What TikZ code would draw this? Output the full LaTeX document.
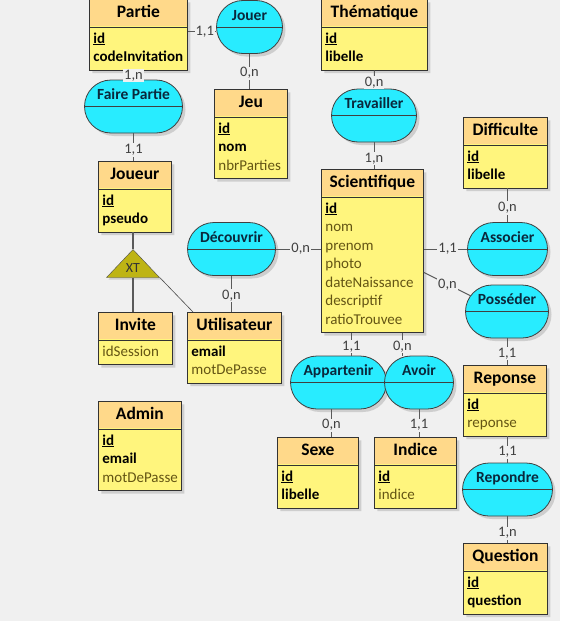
\documentclass[tikz,border=0pt]{standalone}
\usepackage{fontspec}
\setmainfont{Carlito}
\usetikzlibrary{shapes.multipart,shapes.geometric,shapes.misc,shadows}

\definecolor{fond}{RGB}{240,240,240}
\definecolor{entete}{RGB}{255,217,138}
\definecolor{corps}{RGB}{255,245,125}
\definecolor{cyanasso}{RGB}{40,236,255}
\definecolor{heritage}{RGB}{190,180,20}
\definecolor{attribut}{RGB}{100,85,20}
\definecolor{trait}{RGB}{90,90,90}
\definecolor{nomasso}{RGB}{10,40,60}

\newcommand{\titre}[1]{\fontsize{17.5}{22}\selectfont\bfseries\hbox to\hsize{\hfil\strut #1\hfil}}
\newcommand{\cle}[1]{\strut\underline{\textbf{#1}}}
\newcommand{\gras}[1]{\strut\textbf{#1}}
\newcommand{\simple}[1]{\strut\textcolor{attribut}{#1}}
\hyphenpenalty=10000

\begin{document}
\begin{tikzpicture}[x=1pt,y=-1pt,
  entite/.style={rectangle split, rectangle split parts=2, draw=black!80, line width=.8pt,
    fill=corps, path picture={\fill[entete] (path picture bounding box.north west)
      rectangle ([yshift=-27pt]path picture bounding box.north east);},
    text width=#1, align=left, inner xsep=4pt, inner ysep=2.5pt, anchor=north west,
    font=\fontsize{15}{18.5}\selectfont,
    drop shadow={shadow xshift=3pt,shadow yshift=-3pt,opacity=.3}},
  relation/.style={rounded rectangle, draw=black!75, line width=.8pt, fill=cyanasso,
    minimum width=#1-59pt, minimum height=53pt, inner xsep=-30pt, inner ysep=0pt,
    text height=11pt, text depth=25pt,
    font=\fontsize{15.5}{18}\selectfont\bfseries, text=nomasso,
    drop shadow={shadow xshift=3pt,shadow yshift=-3pt,opacity=.3}},
  xt/.style={isosceles triangle, shape border rotate=90, isosceles triangle stretches,
    minimum width=53pt, minimum height=28pt, inner sep=0pt, draw=black!70, fill=heritage,
    font=\fontsize{14}{16}\selectfont, text=black!80,
    drop shadow={shadow xshift=2pt,shadow yshift=-2pt,opacity=.3}},
  lien/.style={draw=trait, line width=1pt},
  card/.style={fill=fond, inner sep=1pt, font=\fontsize{14.5}{16}\selectfont, text=black!75}]

\path[use as bounding box, fill=fond] (0,0) rectangle (560,621);

% entites
\node[entite=90pt] (partie) at (89,-1) {\titre{Partie}\nodepart{two}\cle{id}\\\gras{codeInvitation}};
\node[entite=65pt] (jeu) at (214,89) {\titre{Jeu}\nodepart{two}\cle{id}\\\gras{nom}\\\simple{nbrParties}};
\node[entite=98pt] (thematique) at (321,-1) {\titre{Thématique}\nodepart{two}\cle{id}\\\gras{libelle}};
\node[entite=76pt] (difficulte) at (463,117) {\titre{Difficulte}\nodepart{two}\cle{id}\\\gras{libelle}};
\node[entite=65pt] (joueur) at (98,161) {\titre{Joueur}\nodepart{two}\cle{id}\\\gras{pseudo}};
\node[entite=94pt] (scientifique) at (321,169) {\titre{Scientifique}\nodepart{two}\cle{id}\\\simple{nom}\\\simple{prenom}\\\simple{photo}\\\simple{dateNaissance}\\\simple{descriptif}\\\simple{ratioTrouvee}};
\node[entite=66pt] (invite) at (98,312) {\titre{Invite}\nodepart{two}\simple{idSession}};
\node[entite=86pt] (utilisateur) at (187,312) {\titre{Utilisateur}\nodepart{two}\gras{email}\\\simple{motDePasse}};
\node[entite=75pt] (admin) at (98,401) {\titre{Admin}\nodepart{two}\cle{id}\\\gras{email}\\\simple{motDePasse}};
\node[entite=73pt] (sexe) at (277,437) {\titre{Sexe}\nodepart{two}\cle{id}\\\gras{libelle}};
\node[entite=74pt] (indice) at (374,437) {\titre{Indice}\nodepart{two}\cle{id}\\\simple{indice}};
\node[entite=75pt] (reponse) at (463,365) {\titre{Reponse}\nodepart{two}\cle{id}\\\simple{reponse}};
\node[entite=76pt] (question) at (463,543) {\titre{Question}\nodepart{two}\cle{id}\\\gras{question}};

% associations
\node[relation=65pt] (jouer) at (249.5,27) {Jouer};
\node[relation=97pt] (fairepartie) at (133.5,106.5) {Faire Partie};
\node[relation=84pt] (travailler) at (374,115.5) {Travailler};
\node[relation=87pt] (decouvrir) at (231.5,249) {Découvrir};
\node[relation=79pt] (associer) at (507.5,249) {Associer};
\node[relation=82pt] (posseder) at (507,311.5) {Posséder};
\node[relation=95pt] (appartenir) at (338.5,382.5) {Appartenir};
\node[relation=68pt] (avoir) at (419,382.5) {Avoir};
\node[relation=89pt] (repondre) at (507.5,489.5) {Repondre};
\foreach \r in {jouer,fairepartie,travailler,decouvrir,associer,posseder,appartenir,avoir,repondre}
  \draw[black!75,line width=.8pt] (\r.west) -- (\r.east);

% heritage
\node[xt, anchor=apex] (xt) at (133,249) {XT};
\draw[trait, line width=1.6pt] (xt.apex |- joueur.south) -- (xt.apex);
\draw[trait, line width=1.6pt] (xt.lower side) -- (xt.lower side |- invite.north);
\draw[black!70, line width=.6pt] (xt.right corner) -- ([xshift=6pt]utilisateur.north west);

% liens
\draw[lien] ([yshift=3pt]partie.east) -- ([yshift=3pt]partie.east -| jouer.west) node[card,pos=.6]{1,1};
\draw[lien] (jouer.south) -- (jouer.south |- jeu.north) node[card,pos=.55]{0,n};
\draw[lien] (fairepartie.north |- partie.south) -- (fairepartie.north) node[card,pos=.55]{1,n};
\draw[lien] (fairepartie.south) -- (fairepartie.south |- joueur.north) node[card,pos=.6]{1,1};
\draw[lien] (thematique.south) -- (travailler.north) node[card,pos=.65]{0,n};
\draw[lien] (travailler.south) -- (travailler.south |- scientifique.north) node[card,pos=.6]{1,n};
\draw[lien] (associer.north |- difficulte.south) -- (associer.north) node[card,pos=.58]{0,n};
\draw[lien] (decouvrir.east) -- (decouvrir.east -| scientifique.west) node[card,pos=.55]{0,n};
\draw[lien] (decouvrir.south) -- (decouvrir.south |- utilisateur.north) node[card,pos=.55]{0,n};
\draw[lien] (associer.west -| scientifique.east) -- (associer.west) node[card,pos=.55]{1,1};
\draw[lien] ([yshift=-21.5pt]scientifique.east) -- ([xshift=6pt,yshift=15.5pt]posseder.west) node[card,pos=.5]{0,n};
\draw[lien] (posseder.south) -- (posseder.south |- reponse.north) node[card,pos=.57]{1,1};
\draw[lien] (repondre.north |- reponse.south) -- (repondre.north) node[card,pos=.6]{1,1};
\draw[lien] (repondre.south) -- (repondre.south |- question.north) node[card,pos=.63]{1,n};
\draw[lien] ([xshift=-21pt]scientifique.south) -- ([xshift=-21pt]scientifique.south |- appartenir.north) node[card,pos=.6]{1,1};
\draw[lien] ([xshift=30pt]scientifique.south) -- ([xshift=30pt]scientifique.south |- avoir.north) node[card,pos=.6]{0,n};
\draw[lien] ([xshift=-7pt]appartenir.south) -- ([xshift=-7pt]appartenir.south |- sexe.north) node[card,pos=.57]{0,n};
\draw[lien] (avoir.south) -- (avoir.south |- indice.north) node[card,pos=.57]{1,1};

\end{tikzpicture}
\end{document}
